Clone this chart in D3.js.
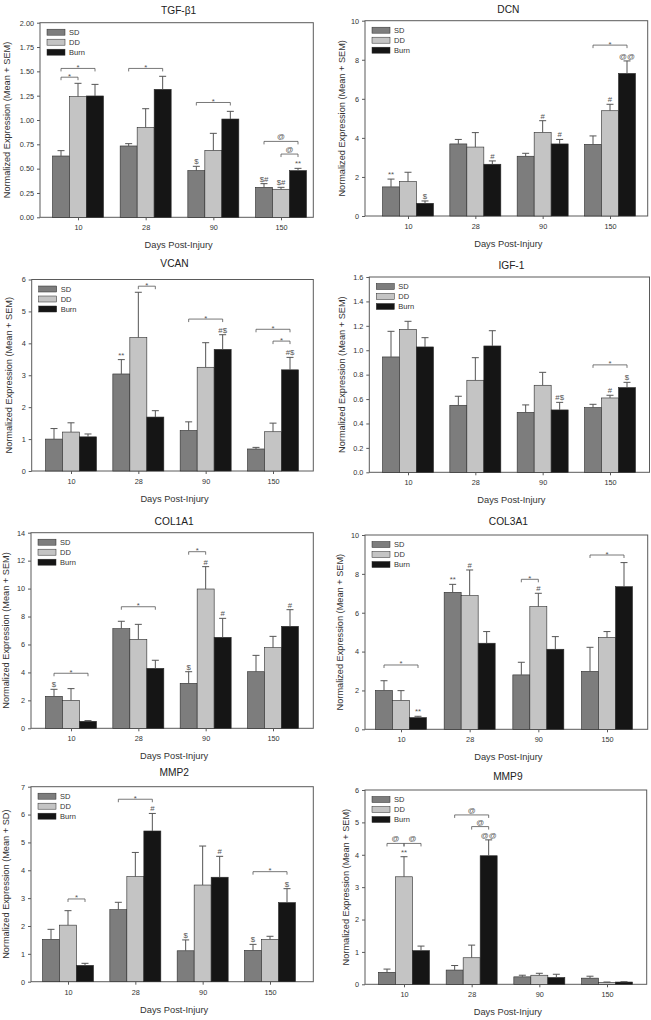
<!DOCTYPE html>
<html>
<head>
<meta charset="utf-8">
<script src="https://cdn.jsdelivr.net/npm/d3@7/dist/d3.min.js"></script>
<style>
  html, body { margin: 0; padding: 0; background: #fff; }
  svg { display: block; font-family: "Liberation Sans", Arial, sans-serif; }
</style>
</head>
<body>
<svg id="chart" width="651" height="1020"></svg>
<script>
// ---------- data ----------
const days = ["10", "28", "90", "150"];
const groupsNames = ["SD", "DD", "Burn"];

// TGF-β1
const tgfMean = [[0.63, 0.733, 0.48, 0.308], [1.24, 0.925, 0.688, 0.288], [1.247, 1.315, 1.01, 0.48]];
const tgfErr  = [[0.055, 0.024, 0.044, 0.038], [0.137, 0.191, 0.175, 0.02], [0.119, 0.134, 0.079, 0.023]];
const tgfTicks = [0, 0.25, 0.5, 0.75, 1, 1.25, 1.5, 1.75, 2];
const tgfLabels = [[2, 0, "$"], [3, 0, "$#"], [3, 1, "$#"], [3, 2, "**"]];
const tgfBrackets = [[0, 0, 1, 1.44, "*"], [0, 0, 2, 1.53, "*"], [1, 0, 2, 1.53, "*"], [2, 0, 2, 1.18, "*"], [3, 0, 2, 0.78, "@"], [3, 1, 2, 0.65, "@"]];

// DCN
const dcnMean = [[1.49, 3.69, 3.06, 3.67], [1.76, 3.53, 4.28, 5.39], [0.65, 2.65, 3.69, 7.3]];
const dcnErr  = [[0.40, 0.23, 0.15, 0.43], [0.48, 0.74, 0.60, 0.33], [0.12, 0.17, 0.23, 0.64]];
const dcnTicks = [0, 2, 4, 6, 8, 10];
const dcnLabels = [[0, 0, "**"], [0, 2, "$"], [1, 2, "#"], [2, 1, "#"], [2, 2, "#"], [3, 1, "#"], [3, 2, "@@"]];
const dcnBrackets = [[3, 0, 2, 8.75, "*"]];

// VCAN
const vcanMean = [[1.0, 3.04, 1.27, 0.69], [1.22, 4.18, 3.25, 1.23], [1.07, 1.69, 3.81, 3.17]];
const vcanErr  = [[0.33, 0.45, 0.27, 0.05], [0.29, 1.42, 0.77, 0.27], [0.09, 0.2, 0.46, 0.39]];
const vcanTicks = [0, 1, 2, 3, 4, 5, 6];
const vcanLabels = [[1, 0, "**"], [2, 2, "#$"], [3, 2, "#$"]];
const vcanBrackets = [[1, 1, 2, 5.79, "*"], [2, 0, 2, 4.76, "*"], [3, 0, 2, 4.44, "*"], [3, 1, 2, 4.07, "*"]];

// IGF-1
const igfMean = [[0.945, 0.549, 0.491, 0.53], [1.171, 0.754, 0.713, 0.609], [1.027, 1.035, 0.511, 0.694]];
const igfErr  = [[0.21, 0.074, 0.061, 0.027], [0.066, 0.185, 0.106, 0.022], [0.076, 0.125, 0.062, 0.043]];
const igfTicks = [0, 0.2, 0.4, 0.6, 0.8, 1.0, 1.2, 1.4, 1.6];
const igfLabels = [[2, 2, "#$"], [3, 1, "#"], [3, 2, "$"]];
const igfBrackets = [[3, 0, 2, 0.88, "*"]];

// COL1A1
const col1Mean = [[2.29, 7.13, 3.22, 4.05], [2.0, 6.37, 9.97, 5.77], [0.5, 4.29, 6.51, 7.3]];
const col1Err  = [[0.5, 0.53, 0.83, 1.17], [0.84, 1.07, 1.6, 0.81], [0.05, 0.58, 1.36, 1.19]];
const col1Ticks = [0, 2, 4, 6, 8, 10, 12, 14];
const col1Labels = [[0, 0, "$"], [2, 0, "$"], [2, 1, "#"], [2, 2, "#"], [3, 2, "#"]];
const col1Brackets = [[0, 0, 2, 3.94, "*"], [1, 0, 2, 8.7, "*"], [2, 0, 1, 12.64, "*"]];

// COL3A1
const col3Mean = [[2.0, 7.05, 2.8, 2.98], [1.49, 6.88, 6.31, 4.73], [0.6, 4.43, 4.12, 7.34]];
const col3Err  = [[0.5, 0.41, 0.65, 1.24], [0.5, 1.32, 0.69, 0.3], [0.07, 0.6, 0.65, 1.24]];
const col3Ticks = [0, 2, 4, 6, 8, 10];
const col3Labels = [[0, 2, "**"], [1, 0, "**"], [1, 1, "#"], [2, 1, "#"]];
const col3Brackets = [[0, 0, 2, 3.31, "*"], [2, 0, 1, 7.72, "*"], [3, 0, 2, 8.97, "*"]];

// MMP2
const mmp2Mean = [[1.52, 2.585, 1.11, 1.125], [2.03, 3.77, 3.47, 1.52], [0.586, 5.41, 3.75, 2.84]];
const mmp2Err  = [[0.36, 0.265, 0.39, 0.215], [0.52, 0.87, 1.4, 0.11], [0.074, 0.63, 0.75, 0.5]];
const mmp2Ticks = [0, 1, 2, 3, 4, 5, 6, 7];
const mmp2Labels = [[1, 2, "#"], [2, 0, "$"], [2, 2, "#"], [3, 0, "$"], [3, 2, "$"]];
const mmp2Brackets = [[0, 1, 2, 2.97, "*"], [1, 0, 2, 6.55, "*"], [3, 0, 2, 3.95, "*"]];

// MMP9
const mmp9Mean = [[0.37, 0.44, 0.23, 0.19], [3.32, 0.82, 0.28, 0.06], [1.04, 3.97, 0.21, 0.07]];
const mmp9Err  = [[0.10, 0.14, 0.05, 0.06], [0.62, 0.39, 0.06, 0.01], [0.14, 0.49, 0.10, 0.01]];
const mmp9Ticks = [0, 1, 2, 3, 4, 5, 6];
const mmp9Labels = [[0, 1, "**"], [1, 2, "@@"]];
const mmp9Brackets = [[0, 0, 1, 4.35, "@"], [0, 1, 2, 4.35, "@"], [1, 0, 2, 5.23, "@"], [1, 1, 2, 4.87, "@"]];

const panels = [
  { title: "TGF-β1", ylab: "Normalized Expression (Mean + SEM)", mean: tgfMean, err: tgfErr, ticks: tgfTicks, fmt: ".2f", labels: tgfLabels, brackets: tgfBrackets },
  { title: "DCN", ylab: "Normalized Expression (Mean + SEM)", mean: dcnMean, err: dcnErr, ticks: dcnTicks, fmt: "d", labels: dcnLabels, brackets: dcnBrackets },
  { title: "VCAN", ylab: "Normalized Expression (Mean + SEM)", mean: vcanMean, err: vcanErr, ticks: vcanTicks, fmt: "d", labels: vcanLabels, brackets: vcanBrackets },
  { title: "IGF-1", ylab: "Normalized Expression (Mean + SEM)", mean: igfMean, err: igfErr, ticks: igfTicks, fmt: ".1f", labels: igfLabels, brackets: igfBrackets },
  { title: "COL1A1", ylab: "Normalized Expression (Mean + SEM)", mean: col1Mean, err: col1Err, ticks: col1Ticks, fmt: "d", labels: col1Labels, brackets: col1Brackets },
  { title: "COL3A1", ylab: "Normalized Expression (Mean + SEM)", mean: col3Mean, err: col3Err, ticks: col3Ticks, fmt: "d", labels: col3Labels, brackets: col3Brackets },
  { title: "MMP2", ylab: "Normalized Expression (Mean + SD)", mean: mmp2Mean, err: mmp2Err, ticks: mmp2Ticks, fmt: "d", labels: mmp2Labels, brackets: mmp2Brackets },
  { title: "MMP9", ylab: "Normalized Expression (Mean + SEM)", mean: mmp9Mean, err: mmp9Err, ticks: mmp9Ticks, fmt: "d", labels: mmp9Labels, brackets: mmp9Brackets }
];

// ---------- layout (positions only) ----------
const layout = [
  { L: 40,    T: 22.7,  R: 313.3, B: 217.3, c0: 78,  c1: 281, titleY: 10,    ylx: 7.3 },
  { L: 365,   T: 20.7,  R: 647.7, B: 216,   c0: 408, c1: 610, titleY: 9.5,   ylx: 341.7 },
  { L: 31.7,  T: 279.5, R: 313.3, B: 471,   c0: 71,  c1: 273, titleY: 263,   ylx: 9.3 },
  { L: 369.3, T: 277,   R: 649.5, B: 472.3, c0: 408, c1: 610, titleY: 265,   ylx: 341.7 },
  { L: 31,    T: 532.7, R: 313.3, B: 728.3, c0: 71,  c1: 273, titleY: 521,   ylx: 6 },
  { L: 365,   T: 535,   R: 647.7, B: 729.3, c0: 401, c1: 607, titleY: 521.7, ylx: 340 },
  { L: 31,    T: 786.7, R: 313.3, B: 981.7, c0: 68,  c1: 270, titleY: 772,   ylx: 6 },
  { L: 365,   T: 790,   R: 646.7, B: 984.3, c0: 404, c1: 607, titleY: 776,   ylx: 345.7 }
];

const colors = ["#7d7d7d", "#c4c4c4", "#151515"];
const axisColor = "#5a5a5a";
const textColor = "#333";
const annColor = "#555";
const barW = 17;

const svg = d3.select("#chart");
svg.append("rect").attr("width", 651).attr("height", 1020).attr("fill", "#fff");

panels.forEach((p, pi) => {
  const lay = layout[pi];
  const g = svg.append("g");
  const x = d3.scalePoint().domain(days).range([lay.c0, lay.c1]);
  const yMax = p.ticks[p.ticks.length - 1];
  const y = d3.scaleLinear().domain([0, yMax]).range([lay.B, lay.T]);
  const off = s => (s - 1) * barW;
  const bx = (gi, s) => x(days[gi]) + off(s);

  // frame
  g.append("rect")
    .attr("x", lay.L).attr("y", lay.T)
    .attr("width", lay.R - lay.L).attr("height", lay.B - lay.T)
    .attr("fill", "none").attr("stroke", axisColor).attr("stroke-width", 1);

  // bars
  p.mean.forEach((vals, s) => {
    g.selectAll(null).data(vals).enter().append("rect")
      .attr("x", (d, i) => bx(i, s) - barW / 2)
      .attr("y", d => y(d))
      .attr("width", barW)
      .attr("height", d => y(0) - y(d))
      .attr("fill", colors[s])
      .attr("stroke", "#2a2a2a").attr("stroke-width", 0.6);
  });

  // error bars (upper only)
  p.mean.forEach((vals, s) => {
    vals.forEach((v, i) => {
      const e = p.err[s][i];
      const cx = bx(i, s);
      g.append("line").attr("x1", cx).attr("x2", cx)
        .attr("y1", y(v)).attr("y2", y(v + e))
        .attr("stroke", "#555").attr("stroke-width", 1);
      g.append("line").attr("x1", cx - 3.5).attr("x2", cx + 3.5)
        .attr("y1", y(v + e)).attr("y2", y(v + e))
        .attr("stroke", "#555").attr("stroke-width", 1);
    });
  });

  // y axis
  const yAxis = d3.axisLeft(y).tickValues(p.ticks).tickFormat(d3.format(p.fmt)).tickSize(3).tickPadding(3);
  const ya = g.append("g").attr("transform", `translate(${lay.L},0)`).call(yAxis);
  ya.select(".domain").remove();
  ya.selectAll("line").attr("stroke", axisColor);
  ya.selectAll("text").attr("fill", textColor).attr("font-size", 7.3).attr("font-family", "Liberation Sans, Arial, sans-serif");

  // x axis
  const xAxis = d3.axisBottom(x).tickSize(3).tickPadding(5);
  const xa = g.append("g").attr("transform", `translate(0,${lay.B})`).call(xAxis);
  xa.select(".domain").remove();
  xa.selectAll("line").attr("stroke", axisColor);
  xa.selectAll("text").attr("fill", textColor).attr("font-size", 7.3).attr("font-family", "Liberation Sans, Arial, sans-serif");

  // titles
  g.append("text").attr("x", (lay.L + lay.R) / 2 + 2).attr("y", lay.titleY)
    .attr("text-anchor", "middle").attr("dominant-baseline", "central")
    .attr("font-size", 10.2).attr("fill", "#222").text(p.title);
  g.append("text").attr("x", (lay.L + lay.R) / 2 + 2).attr("y", lay.B + 28)
    .attr("text-anchor", "middle").attr("dominant-baseline", "central")
    .attr("font-size", 9.3).attr("fill", textColor).text("Days Post-Injury");
  g.append("text")
    .attr("transform", `translate(${lay.ylx},${(lay.T + lay.B) / 2}) rotate(-90)`)
    .attr("text-anchor", "middle").attr("dominant-baseline", "central")
    .attr("font-size", 9.2).attr("fill", textColor).text(p.ylab);

  // legend
  const lg = g.append("g").attr("transform", `translate(${lay.L + 7},${lay.T + 9.5})`);
  groupsNames.forEach((nm, s) => {
    lg.append("rect").attr("x", 0).attr("y", s * 10 - 3).attr("width", 18).attr("height", 6)
      .attr("fill", colors[s]).attr("stroke", "#2a2a2a").attr("stroke-width", 0.5);
    lg.append("text").attr("x", 22).attr("y", s * 10).attr("dominant-baseline", "central")
      .attr("font-size", 7.5).attr("fill", textColor).text(nm);
  });

  // bar labels
  p.labels.forEach(([gi, s, t]) => {
    const top = p.mean[s][gi] + p.err[s][gi];
    g.append("text").attr("x", bx(gi, s)).attr("y", y(top) - 2)
      .attr("text-anchor", "middle").attr("font-size", 7.8).attr("fill", annColor).text(t);
  });

  // brackets
  p.brackets.forEach(([gi, s0, s1, yv, t]) => {
    const x0 = bx(gi, s0), x1 = bx(gi, s1), yy = y(yv);
    g.append("path")
      .attr("d", `M${x0},${yy + 3}V${yy}H${x1}V${yy + 3}`)
      .attr("fill", "none").attr("stroke", annColor).attr("stroke-width", 0.8);
    g.append("text").attr("x", (x0 + x1) / 2).attr("y", yy - (t === "*" ? -1.5 : 2))
      .attr("text-anchor", "middle").attr("font-size", 7.8).attr("fill", annColor).text(t);
  });
});
</script>
</body>
</html>
